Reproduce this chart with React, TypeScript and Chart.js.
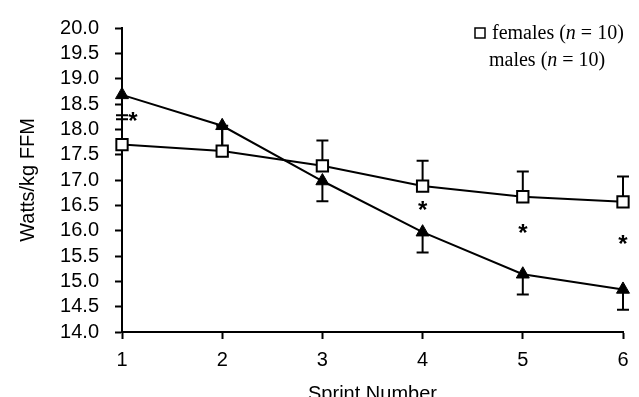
import React, { useEffect, useRef } from "react";
import { Chart, registerables } from "chart.js";

Chart.register(...registerables);

// ---- data ----
const sprints = [1, 2, 3, 4, 5, 6];
const femalesMean = [17.7, 17.57, 17.28, 16.88, 16.67, 16.57];
const femalesErr = [0.5, 0.5, 0.5, 0.5, 0.5, 0.5];
const malesMean = [18.68, 18.07, 16.98, 15.97, 15.14, 14.84];
const malesErr = [0.4, 0.45, 0.4, 0.4, 0.4, 0.4];
const starX = [1.11, 4, 5, 6];
const starY = [18.25, 16.5, 16.05, 15.82];
const yTicks = [14, 14.5, 15, 15.5, 16, 16.5, 17, 17.5, 18, 18.5, 19, 19.5, 20];

const SANS = "'Liberation Sans', Arial, sans-serif";
const SERIF = "'Liberation Serif', 'Times New Roman', serif";

const annotations = {
  id: "annotations",
  beforeDatasetsDraw(chart: any) {
    const { ctx, scales } = chart;
    const x = scales.x, y = scales.y;
    ctx.save();
    ctx.strokeStyle = "#000";
    ctx.lineWidth = 2;
    const draw = (means: number[], errs: number[], dir: number) => {
      means.forEach((m, i) => {
        const px = x.getPixelForValue(sprints[i]);
        const y0 = y.getPixelForValue(m);
        const y1 = y.getPixelForValue(m + dir * errs[i]);
        ctx.beginPath();
        ctx.moveTo(px, y0);
        ctx.lineTo(px, y1);
        ctx.moveTo(px - 6, y1);
        ctx.lineTo(px + 6, y1);
        ctx.stroke();
      });
    };
    draw(femalesMean, femalesErr, 1);
    draw(malesMean, malesErr, -1);
    ctx.restore();
  },
  afterDraw(chart: any) {
    const { ctx, scales } = chart;
    const x = scales.x, y = scales.y;
    ctx.save();
    ctx.fillStyle = "#000";
    ctx.font = `bold 24px ${SANS}`;
    ctx.textAlign = "center";
    ctx.textBaseline = "middle";
    starX.forEach((sx, i) => {
      ctx.fillText("*", x.getPixelForValue(sx), y.getPixelForValue(starY[i]) + 6);
    });

    // legend
    const w = chart.width;
    ctx.strokeStyle = "#000";
    ctx.lineWidth = 1.5;
    ctx.strokeRect(w - 164, 28, 10, 10);
    const drawLine = (parts: [string, boolean][], sx: number, by: number) => {
      let cx = sx;
      ctx.textAlign = "left";
      ctx.textBaseline = "alphabetic";
      parts.forEach(([t, it]) => {
        ctx.font = `${it ? "italic " : ""}20px ${SERIF}`;
        ctx.fillText(t, cx, by);
        cx += ctx.measureText(t).width;
      });
    };
    drawLine([["females (", false], ["n", true], [" = 10)", false]], w - 147, 39);
    drawLine([["males (", false], ["n", true], [" = 10)", false]], w - 150, 66);
    ctx.restore();
  },
};

export default function App() {
  const ref = useRef<HTMLCanvasElement>(null);
  useEffect(() => {
    if (!ref.current) return;
    const chart = new Chart(ref.current, {
      type: "line",
      data: {
        datasets: [
          {
            label: "females (n = 10)",
            data: sprints.map((s, i) => ({ x: s, y: femalesMean[i] })),
            borderColor: "#000",
            borderWidth: 2,
            pointStyle: "rect",
            pointRadius: 8,
            pointBackgroundColor: "#fff",
            pointBorderColor: "#000",
            pointBorderWidth: 2,
            clip: false,
            order: 1,
          },
          {
            label: "males (n = 10)",
            data: sprints.map((s, i) => ({ x: s, y: malesMean[i] })),
            borderColor: "#000",
            borderWidth: 2,
            pointStyle: "triangle",
            pointRadius: 7.5,
            pointBackgroundColor: "#000",
            pointBorderColor: "#000",
            pointBorderWidth: 1,
            clip: false,
            order: 0,
          },
        ],
      },
      options: {
        animation: false,
        responsive: true,
        maintainAspectRatio: false,
        layout: { autoPadding: false, padding: { top: 24, right: 16, left: 0, bottom: 0 } },
        plugins: { legend: { display: false }, tooltip: { enabled: false } },
        scales: {
          x: {
            type: "linear",
            min: 1,
            max: 6,
            afterFit: (s: any) => { s.height = 65; },
            afterBuildTicks: (s: any) => { s.ticks = sprints.map((v) => ({ value: v })); },
            ticks: { autoSkip: false, maxRotation: 0, color: "#000", font: { family: SANS, size: 20 }, padding: 9, callback: (v: any) => String(v) },
            grid: { drawOnChartArea: false, drawTicks: true, tickLength: 7, tickWidth: 2, tickColor: "#000" },
            border: { display: true, color: "#000", width: 2 },
            title: { display: true, text: "Sprint Number", color: "#000", font: { family: SANS, size: 20 }, padding: { top: 0, bottom: -9 } },
          },
          y: {
            type: "linear",
            min: 14,
            max: 20,
            afterFit: (s: any) => { s.width = 122; },
            afterBuildTicks: (s: any) => { s.ticks = yTicks.map((v) => ({ value: v })); },
            ticks: { autoSkip: false, color: "#000", font: { family: SANS, size: 20 }, padding: 16, callback: (v: any) => Number(v).toFixed(1) },
            grid: { drawOnChartArea: false, drawTicks: true, tickLength: 7, tickWidth: 2, tickColor: "#000" },
            border: { display: true, color: "#000", width: 2 },
            title: { display: true, text: "Watts/kg FFM", color: "#000", font: { family: SANS, size: 20 }, padding: { top: 16, bottom: 0 } },
          },
        },
      },
      plugins: [annotations],
    } as any);
    return () => chart.destroy();
  }, []);
  return (
    <div style={{ position: "absolute", left: 0, top: 0, width: 639, height: 397, background: "#fff" }}>
      <canvas ref={ref} />
    </div>
  );
}
